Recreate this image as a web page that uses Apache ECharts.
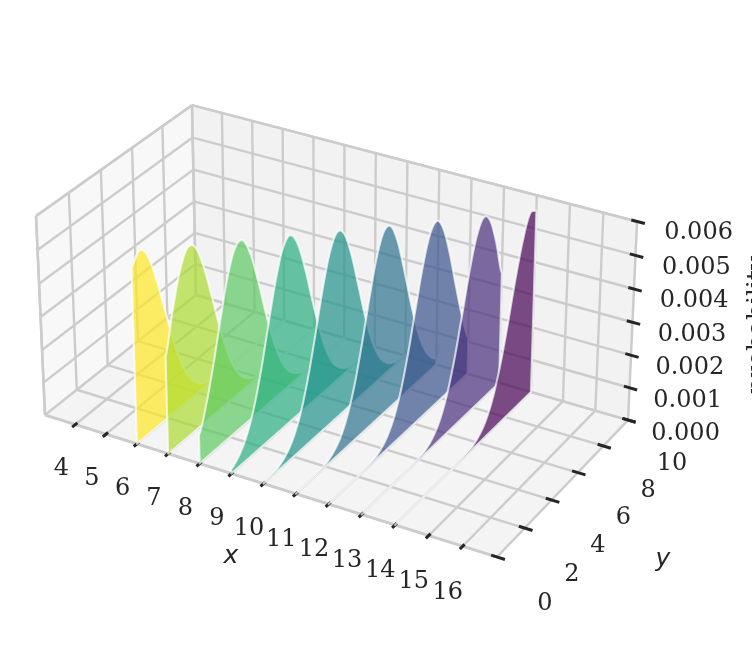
<!DOCTYPE html>
<html>
<head>
<meta charset="utf-8">
<script src="https://cdn.jsdelivr.net/npm/echarts@6/dist/echarts.min.js"></script>
<style>html,body{margin:0;padding:0;background:#fff;overflow:hidden}#c{width:752px;height:656px}</style>
</head>
<body>
<div id="c"></div>
<script>
// ---- data ----
const xTicks = [4,5,6,7,8,9,10,11,12,13,14,15,16];
const yTicks = [0,2,4,6,8,10];
const zTicks = [0,1,2,3,4,5,6];              // thousandths
const zTickLabels = ['0.000','0.001','0.002','0.003','0.004','0.005','0.006'];
const ySamples = [0,0.5,1,1.5,2,2.5,3,3.5,4,4.5,5,5.5,6,6.5,7,7.5,8,8.5,9,9.5,10];
const curveX = [6,7,8,9,10,11,12,13,14];
const prob6  = [5.28,5.60,5.28,4.41,3.28,2.16,1.26,0.66,0.30,0.12,0.045,0.015,0.004,0,0,0,0,0,0,0,0];
const prob7  = [2.93,4.09,5.06,5.57,5.44,4.72,3.63,2.48,1.50,0.81,0.39,0.16,0.06,0.02,0.006,0,0,0,0,0,0];
const prob8  = [0.87,1.59,2.59,3.74,4.81,5.48,5.55,4.98,3.98,2.81,1.77,0.99,0.49,0.22,0.08,0.03,0.009,0.002,0,0,0];
const prob9  = [0.14,0.33,0.71,1.34,2.27,3.40,4.52,5.34,5.60,5.21,4.31,3.16,2.06,1.19,0.61,0.28,0.11,0.04,0.013,0.004,0.001];
const prob10 = [0.012,0.036,0.10,0.26,0.57,1.12,1.96,3.04,4.20,5.14,5.59,5.39,4.62,3.51,2.37,1.42,0.76,0.36,0.15,0.056,0.018];
const prob11 = [0.001,0.002,0.008,0.026,0.076,0.20,0.45,0.93,1.68,2.70,3.86,4.90,5.52,5.52,4.90,3.86,2.70,1.68,0.93,0.45,0.20];
const prob12 = [0,0,0.001,0.001,0.005,0.018,0.056,0.15,0.36,0.76,1.42,2.37,3.51,4.62,5.39,5.59,5.14,4.20,3.04,1.96,1.12];
const prob13 = [0,0,0,0,0,0.001,0.004,0.013,0.04,0.11,0.28,0.61,1.19,2.06,3.16,4.31,5.21,5.60,5.34,4.52,3.40];
const prob14 = [0,0,0,0,0,0,0,0,0.002,0.009,0.03,0.08,0.22,0.49,0.99,1.77,2.81,3.98,4.98,5.62,5.55];
const curves = [prob6,prob7,prob8,prob9,prob10,prob11,prob12,prob13,prob14];
const colors = ['#fde725','#addc30','#5ec962','#28ae80','#21918c','#2c728e','#3b528b','#472d7b','#440154'];
const xLabelText = 'x', yLabelText = 'y', zLabelText = 'probability';

// ---- view: camera of the 3D box ----
const X0 = 3, X1 = 17, Y0 = 0, Y1 = 10, Z0 = 0, Z1 = 6;
const cam = {
  a:[420.15,163.9,-10.08,45], b:[106.3,-100.6,-205.48,415], c:[-0.0641,0.0657,-0.03,1]
};
function project(x,y,z){
  const u=(x-X0)/(X1-X0), v=(y-Y0)/(Y1-Y0), w=(z-Z0)/(Z1-Z0);
  const d=cam.c[0]*u+cam.c[1]*v+cam.c[2]*w+cam.c[3];
  return [(cam.a[0]*u+cam.a[1]*v+cam.a[2]*w+cam.a[3])/d,
          (cam.b[0]*u+cam.b[1]*v+cam.b[2]*w+cam.b[3])/d];
}
const GRID = '#cccccc', INK = '#262626';
const FONT = '24px "DejaVu Serif"';
const lineEl=(p,q,stroke,lw)=>({type:'line',shape:{x1:p[0],y1:p[1],x2:q[0],y2:q[1]},style:{stroke,lineWidth:lw,lineCap:'butt'},silent:true});
const poly=(pts,fill)=>({type:'polygon',shape:{points:pts},style:{fill},silent:true});
const textEl=(s,x,y,font,rot)=>({type:'text',x,y,rotation:rot||0,style:{text:s,x:0,y:0,fill:INK,font,textAlign:'center',textVerticalAlign:'middle'},silent:true});

function catmull(ys,zs,n){
  const out=[];
  for(let i=0;i<ys.length-1;i++){
    const p0=zs[Math.max(i-1,0)],p1=zs[i],p2=zs[i+1],p3=zs[Math.min(i+2,zs.length-1)];
    for(let k=0;k<n;k++){
      const t=k/n;
      const z=0.5*((2*p1)+(-p0+p2)*t+(2*p0-5*p1+4*p2-p3)*t*t+(-p0+3*p1-3*p2+p3)*t*t*t);
      out.push([ys[i]+(ys[i+1]-ys[i])*t,Math.max(z,0)]);
    }
  }
  out.push([ys[ys.length-1],zs[zs.length-1]]);
  return out;
}

function backdrop(){
  const ch=[];
  // panes
  ch.push(poly([[X0,Y0,Z0],[X0,Y1,Z0],[X0,Y1,Z1],[X0,Y0,Z1]].map(p=>project(...p)),'#f8f8f8'));
  ch.push(poly([[X0,Y1,Z0],[X1,Y1,Z0],[X1,Y1,Z1],[X0,Y1,Z1]].map(p=>project(...p)),'#f2f2f2'));
  ch.push(poly([[X0,Y0,Z0],[X1,Y0,Z0],[X1,Y1,Z0],[X0,Y1,Z0]].map(p=>project(...p)),'#f4f4f4'));
  const L=2.4;
  // x grid
  xTicks.forEach(x=>{
    ch.push(lineEl(project(x,Y0,Z0),project(x,Y1,Z0),GRID,L));
    ch.push(lineEl(project(x,Y1,Z0),project(x,Y1,Z1),GRID,L));
  });
  // y grid
  yTicks.forEach(y=>{
    ch.push(lineEl(project(X0,y,Z0),project(X1,y,Z0),GRID,L));
    ch.push(lineEl(project(X0,y,Z0),project(X0,y,Z1),GRID,L));
  });
  // z grid
  zTicks.forEach(z=>{
    ch.push(lineEl(project(X0,Y0,z),project(X0,Y1,z),GRID,L));
    ch.push(lineEl(project(X0,Y1,z),project(X1,Y1,z),GRID,L));
  });
  // pane edges
  const E=2.5;
  [[[X0,Y0,Z0],[X0,Y0,Z1]],[[X0,Y0,Z1],[X0,Y1,Z1]],[[X0,Y1,Z1],[X1,Y1,Z1]],[[X1,Y1,Z1],[X1,Y1,Z0]],
   [[X0,Y0,Z0],[X1,Y0,Z0]],[[X1,Y0,Z0],[X1,Y1,Z0]],[[X0,Y1,Z0],[X0,Y1,Z1]]].forEach(s=>{
    ch.push(lineEl(project(...s[0]),project(...s[1]),GRID,E));
  });
  // ticks
  const T=3;
  xTicks.forEach(x=>ch.push(lineEl(project(x,Y0-0.2,Z0),project(x,Y0+0.13,Z0),INK,T)));
  yTicks.forEach(y=>ch.push(lineEl(project(X1-0.17,y,Z0),project(X1+0.23,y,Z0),INK,T)));
  zTicks.forEach(z=>ch.push(lineEl(project(X1-0.17,Y1,z),project(X1+0.23,Y1,z),INK,T)));
  return {type:'group',children:ch,silent:true};
}

function labels(){
  const ch=[];
  xTicks.forEach(x=>{const p=project(x,Y0,Z0),t=(x-4)/12;ch.push(textEl(String(x),p[0]-14-t,p[1]+44.5+2*t,FONT));});
  yTicks.forEach(y=>{const p=project(X1,y,Z0),t=y/10;ch.push(textEl(String(y),p[0]+48-4*t,p[1]+47-3*t,FONT));});
  zTicks.forEach((z,i)=>{const p=project(X1,Y1,z),t=z/6;ch.push(textEl(zTickLabels[i],p[0]+57.5+4*t,p[1]+13.5-2*t,FONT));});
  const M='italic 25px "DejaVu Sans"';
  ch.push(textEl(xLabelText,231,556,M));
  ch.push(textEl(yLabelText,663,559,M));
  ch.push(textEl(zLabelText,757,325,'25px "DejaVu Serif"',Math.PI/2));
  return {type:'group',children:ch,silent:true};
}

function curveEl(i){
  const pts=[[Y0,0]].concat(catmull(ySamples,curves[i],8)).concat([[Y1,0]]);
  return {type:'polygon',silent:true,
    shape:{points:pts.map(p=>project(curveX[i],p[0],p[1]))},
    style:{fill:colors[i],opacity:0.7,stroke:'#ffffff',lineWidth:2.08,lineJoin:'round'}};
}

const chart = echarts.init(document.getElementById('c'),null,{renderer:'canvas'});
chart.setOption({
  animation:false,
  backgroundColor:'#ffffff',
  series:[
    {type:'custom',coordinateSystem:'none',silent:true,data:[0],renderItem:backdrop,clip:false},
    {type:'custom',coordinateSystem:'none',silent:true,data:curveX.map((x,i)=>i),
      renderItem:(p,api)=>curveEl(api.value(0)),encode:{}},
    {type:'custom',coordinateSystem:'none',silent:true,data:[0],renderItem:labels}
  ]
});
</script>
</body>
</html>
